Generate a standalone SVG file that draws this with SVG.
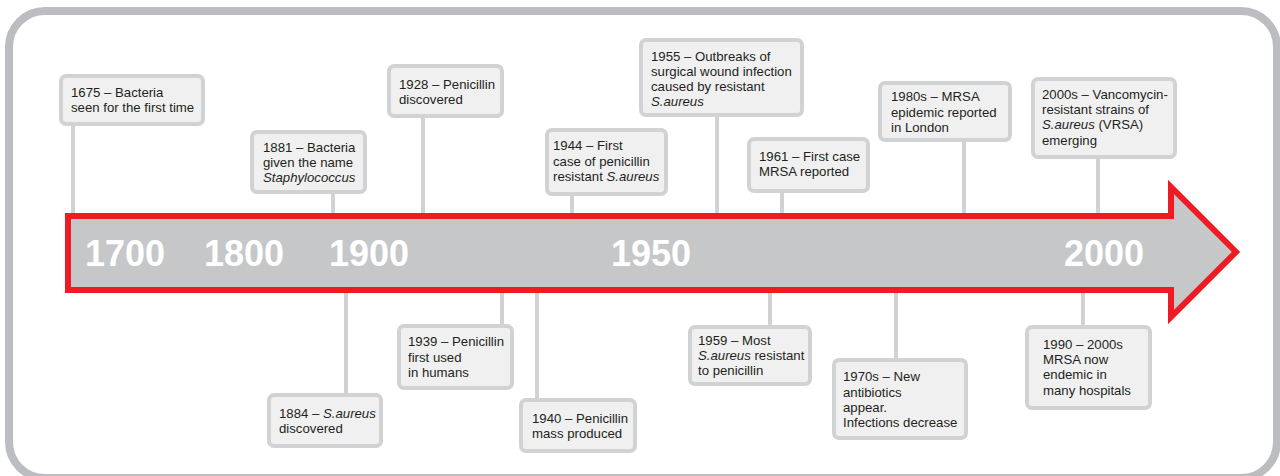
<svg xmlns="http://www.w3.org/2000/svg" width="1280" height="476" viewBox="0 0 1280 476">
<style>
.frame{fill:#ffffff;stroke:#bcbdc0;stroke-width:8}
.box{fill:#f0f0f0;stroke:#d1d2d4;stroke-width:4}
.conn{stroke:#d1d2d4;stroke-width:4;fill:none}
.t{font-family:"Liberation Sans",Arial,Helvetica,sans-serif;font-size:13.2px;fill:#231f20}
.i{font-style:italic}
.yr{font-family:"Liberation Sans",Arial,Helvetica,sans-serif;font-size:36px;font-weight:bold;fill:#ffffff}
.arrow{fill:#c6c7c9;stroke:#ed1c24;stroke-width:6;stroke-linejoin:miter}
</style>
<rect class="frame" x="9" y="11" width="1268" height="467" rx="36" ry="36"/>
<g id="connectors">
<line class="conn" x1="73" y1="126" x2="73" y2="216"/>
<line class="conn" x1="333" y1="194" x2="333" y2="216"/>
<line class="conn" x1="423" y1="118" x2="423" y2="216"/>
<line class="conn" x1="572" y1="196" x2="572" y2="216"/>
<line class="conn" x1="717" y1="117" x2="717" y2="216"/>
<line class="conn" x1="782" y1="193" x2="782" y2="216"/>
<line class="conn" x1="964" y1="142" x2="964" y2="216"/>
<line class="conn" x1="1098" y1="159" x2="1098" y2="216"/>
<line class="conn" x1="346" y1="290" x2="346" y2="393"/>
<line class="conn" x1="502" y1="290" x2="502" y2="324"/>
<line class="conn" x1="537" y1="290" x2="537" y2="398"/>
<line class="conn" x1="770" y1="290" x2="770" y2="325"/>
<line class="conn" x1="896" y1="290" x2="896" y2="358"/>
<line class="conn" x1="1083" y1="290" x2="1083" y2="325"/>
</g>
<g id="timeline">
<path class="arrow" d="M68,216 H1171 V187 L1236,252 L1171,317 V290 H68 Z"/>
<text class="yr" x="85" y="266">1700</text>
<text class="yr" x="204" y="266">1800</text>
<text class="yr" x="329" y="266">1900</text>
<text class="yr" x="611" y="266">1950</text>
<text class="yr" x="1064" y="266">2000</text>
</g>
<g id="n1675">
<rect class="box" x="61" y="76" width="142" height="48" rx="5"/>
<text class="t" x="71" y="97">1675 – Bacteria</text>
<text class="t" x="71" y="112">seen for the first time</text>
</g>
<g id="n1881">
<rect class="box" x="252" y="132" width="113" height="60" rx="5"/>
<text class="t" x="263" y="152">1881 – Bacteria</text>
<text class="t" x="263" y="167">given the name</text>
<text class="t i" x="263" y="182">Staphylococcus</text>
</g>
<g id="n1928">
<rect class="box" x="389" y="66" width="113" height="50" rx="5"/>
<text class="t" x="399" y="89">1928 – Penicillin</text>
<text class="t" x="399" y="104">discovered</text>
</g>
<g id="n1944">
<rect class="box" x="547" y="130" width="119" height="64" rx="5"/>
<text class="t" x="553" y="150">1944 – First</text>
<text class="t" x="553" y="165.5">case of penicillin</text>
<text class="t" x="553" y="180.5">resistant <tspan class="i">S.aureus</tspan></text>
</g>
<g id="n1955">
<rect class="box" x="641" y="40" width="161" height="75" rx="5"/>
<text class="t" x="651" y="61">1955 – Outbreaks of</text>
<text class="t" x="651" y="76">surgical wound infection</text>
<text class="t" x="651" y="91">caused by resistant</text>
<text class="t i" x="651" y="106">S.aureus</text>
</g>
<g id="n1961">
<rect class="box" x="749" y="139" width="119" height="52" rx="5"/>
<text class="t" x="759" y="161">1961 – First case</text>
<text class="t" x="759" y="176">MRSA reported</text>
</g>
<g id="n1980s">
<rect class="box" x="880" y="83" width="130" height="57" rx="5"/>
<text class="t" x="891" y="101">1980s – MRSA</text>
<text class="t" x="891" y="116.5">epidemic reported</text>
<text class="t" x="891" y="131.5">in London</text>
</g>
<g id="n2000s">
<rect class="box" x="1033" y="79" width="142" height="78" rx="5"/>
<text class="t" x="1042" y="98.5">2000s – Vancomycin-</text>
<text class="t" x="1042" y="114">resistant strains of</text>
<text class="t" x="1042" y="129"><tspan class="i">S.aureus</tspan> (VRSA)</text>
<text class="t" x="1042" y="144.5">emerging</text>
</g>
<g id="n1884">
<rect class="box" x="269" y="395" width="112" height="51" rx="5"/>
<text class="t" x="279" y="418">1884 – <tspan class="i">S.aureus</tspan></text>
<text class="t" x="279" y="433">discovered</text>
</g>
<g id="n1939">
<rect class="box" x="399" y="326" width="113" height="62" rx="5"/>
<text class="t" x="408" y="346">1939 – Penicillin</text>
<text class="t" x="408" y="361.5">first used</text>
<text class="t" x="408" y="376.5">in humans</text>
</g>
<g id="n1940">
<rect class="box" x="521" y="400" width="114" height="51" rx="5"/>
<text class="t" x="532" y="423">1940 – Penicillin</text>
<text class="t" x="532" y="438">mass produced</text>
</g>
<g id="n1959">
<rect class="box" x="690" y="327" width="120" height="57" rx="5"/>
<text class="t" x="698" y="345">1959 – Most</text>
<text class="t" x="698" y="360"><tspan class="i">S.aureus</tspan> resistant</text>
<text class="t" x="698" y="375">to penicillin</text>
</g>
<g id="n1970s">
<rect class="box" x="834" y="360" width="132" height="78" rx="5"/>
<text class="t" x="843" y="381">1970s – New</text>
<text class="t" x="843" y="396.5">antibiotics</text>
<text class="t" x="843" y="411.5">appear.</text>
<text class="t" x="843" y="427">Infections decrease</text>
</g>
<g id="n1990">
<rect class="box" x="1027" y="327" width="123" height="81" rx="5"/>
<text class="t" x="1043" y="349">1990 – 2000s</text>
<text class="t" x="1043" y="364">MRSA now</text>
<text class="t" x="1043" y="379">endemic in</text>
<text class="t" x="1043" y="394.5">many hospitals</text>
</g>
</svg>
